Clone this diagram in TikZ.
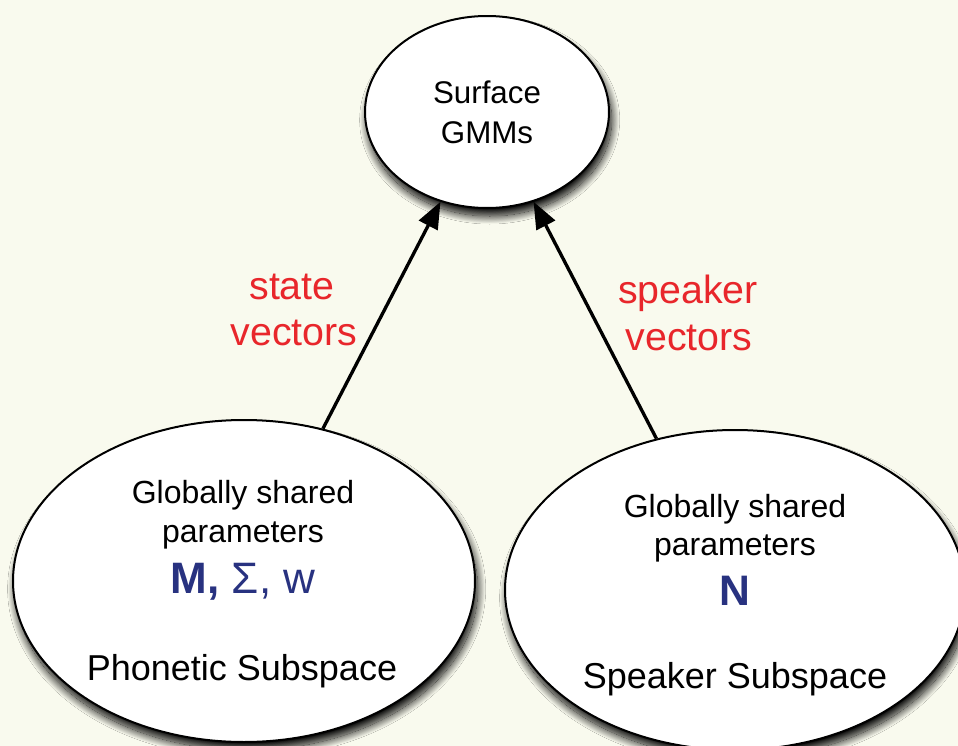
\documentclass[tikz,border=0pt]{standalone}
\usepackage{fontspec}
\setmainfont{Liberation Sans}
\usetikzlibrary{shapes.geometric,arrows.meta,shadows.blur}
\definecolor{paper}{RGB}{249,250,238}
\definecolor{labelred}{RGB}{232,38,43}
\definecolor{paramblue}{RGB}{40,50,128}
\tikzset{
  bubble/.style={ellipse, draw=black, line width=1.5pt, fill=white, inner sep=0pt,
    blur shadow={shadow xshift=2pt, shadow yshift=-6pt, shadow blur radius=6pt,
      shadow blur steps=30, shadow opacity=100}},
  txt/.style={anchor=base, inner sep=0pt, text=black},
  redlbl/.style={anchor=base, inner sep=0pt, text=labelred, font=\fontsize{29.5}{34}\selectfont},
  link/.style={line width=2.5pt, -{Triangle[length=20pt, width=15.5pt]}},
}
\begin{document}
\begin{tikzpicture}[x=0.75pt, y=-0.75pt]
  % page and background
  \fill[paper] (0,0) rectangle (958,746);
  \useasboundingbox (0,0) rectangle (958,746);

  % ellipses
  \node[bubble, minimum width=183pt, minimum height=144pt] (gmm) at (487,112) {};
  \node[bubble, minimum width=346.5pt, minimum height=241.5pt] (phon) at (244,581) {};
  \node[bubble, minimum width=345pt, minimum height=240pt] (spk) at (735,590) {};

  % connectors
  \draw[link] (phon) -- (gmm);
  \draw[link] (spk) -- (gmm);

  % top ellipse text
  \node[txt, font=\fontsize{23.5}{28}\selectfont] (t1) at (487,103) {Surface};
  \node[txt, font=\fontsize{23.5}{28}\selectfont] (t2) at (487,143) {GMMs};

  % phonetic subspace text
  \node[txt, font=\fontsize{24}{28}\selectfont] (p1) at (243,503) {Globally shared};
  \node[txt, font=\fontsize{24}{28}\selectfont] (p2) at (243,542) {parameters};
  \node[txt, font=\fontsize{33}{38}\selectfont, text=paramblue] (p3) at (243,593) {\textbf{M,} Σ, w};
  \node[txt, font=\fontsize{27}{32}\selectfont] (p4) at (242,680) {Phonetic Subspace};

  % speaker subspace text
  \node[txt, font=\fontsize{24}{28}\selectfont] (s1) at (735,517) {Globally shared};
  \node[txt, font=\fontsize{24}{28}\selectfont] (s2) at (735,555) {parameters};
  \node[txt, font=\fontsize{32}{36}\selectfont\bfseries, text=paramblue] (s3) at (735,605) {N};
  \node[txt, font=\fontsize{27}{32}\selectfont] (s4) at (735,688) {Speaker Subspace};

  % connector labels
  \node[redlbl] (l1) at (292,299) {state};
  \node[redlbl] (l2) at (294,345) {vectors};
  \node[redlbl] (l3) at (688,303) {speaker};
  \node[redlbl] (l4) at (689,350) {vectors};
\end{tikzpicture}
\end{document}
